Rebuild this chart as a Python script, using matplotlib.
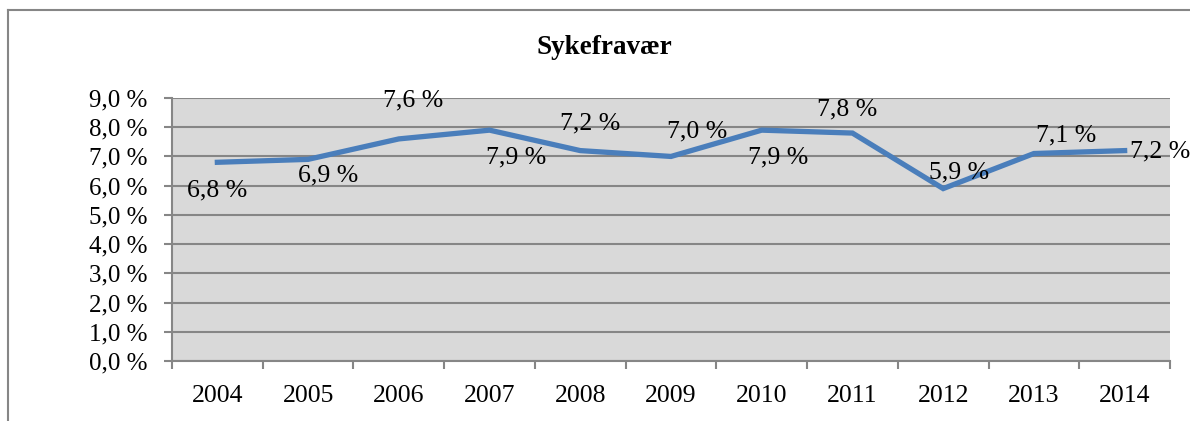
import numpy as np
import matplotlib.pyplot as plt
from matplotlib.lines import Line2D

# Data
years = ["2004", "2005", "2006", "2007", "2008", "2009", "2010", "2011", "2012", "2013", "2014"]
absence = [6.8, 6.9, 7.6, 7.9, 7.2, 7.0, 7.9, 7.8, 5.9, 7.1, 7.2]
# label offsets (pixels) like the Excel placement
label_dx = [0, 20, 14, 27, 10, 26, 16, -5, 16, 32, 35]
label_dy = [-28, -16, 38, -27, 27, 25, -27, 24, 16, 18, -1]

plt.rcParams['font.family'] = ['Liberation Serif', 'DejaVu Serif']

fig = plt.figure(figsize=(11.9, 4.21), dpi=100)
ax = fig.add_axes([172 / 1190, 1 - 361 / 421, 998 / 1190, 263 / 421])

x = np.arange(len(years))
ax.plot(x, absence, color="#4a7ebb", lw=3.8, solid_joinstyle='miter', zorder=3)

for i, v in enumerate(absence):
    ax.annotate(f"{v:.1f} %".replace(".", ","), (x[i], v),
                xytext=(label_dx[i], label_dy[i]), textcoords='offset pixels',
                ha='center', va='center', fontsize=18.5, zorder=4)

ax.set_facecolor("#d9d9d9")
ax.set_xlim(-0.5, len(years) - 0.5)
ax.set_ylim(0, 9)
ax.set_yticks(np.arange(0, 10, 1))
ax.set_yticklabels([f"{t:.1f} %".replace(".", ",") for t in range(10)])
ax.set_xticks(x)
ax.set_xticklabels(years)
ax.set_xticks(np.arange(-0.5, len(years), 1), minor=True)
ax.tick_params(axis='x', which='major', length=0, pad=17, labelsize=18.5)
ax.tick_params(axis='x', which='minor', length=6, width=1.5, color="#868686")
ax.tick_params(axis='y', length=6, width=1.5, color="#868686", pad=12, labelsize=18)
ax.grid(True, axis='y', color="#868686", lw=1.5)
ax.set_axisbelow(True)
for s in ['top', 'right']:
    ax.spines[s].set_visible(False)
for s in ['left', 'bottom']:
    ax.spines[s].set_color("#868686")
    ax.spines[s].set_linewidth(1.5)

fig.text(604 / 1190, 1 - 47 / 421, "Sykefravær", ha='center', va='center',
         fontsize=19.5, fontweight='bold')

# outer chart border (top and left visible)
bx, by = 8 / 1190, 1 - 10 / 421
fig.add_artist(Line2D([bx, bx], [0, by], color="#868686", lw=1.5))
fig.add_artist(Line2D([bx, 1], [by, by], color="#868686", lw=1.5))

fig.savefig("out.png", dpi=100)
